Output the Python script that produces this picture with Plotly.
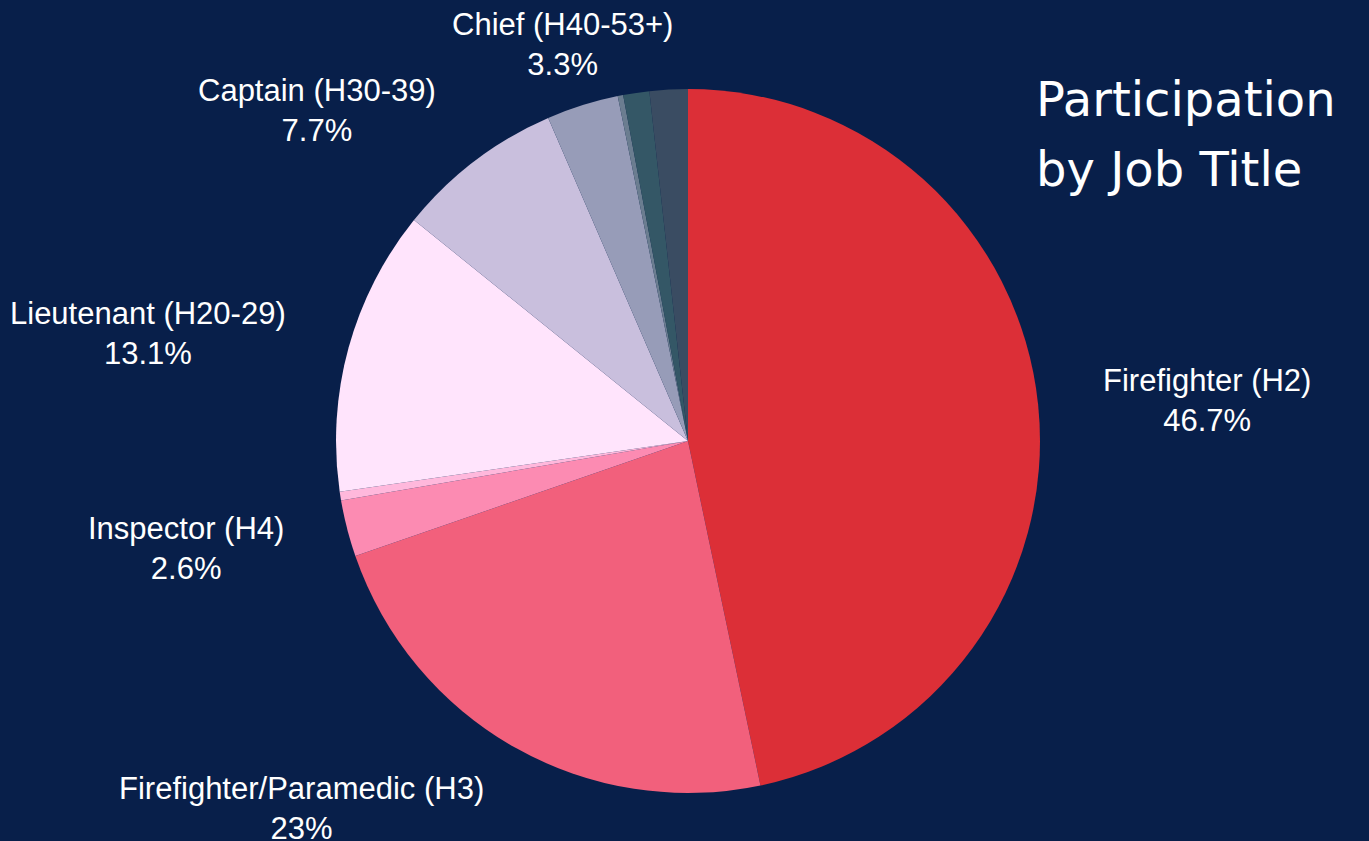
import math
import plotly.graph_objects as go

labels = ["Firefighter (H2)", "Firefighter/Paramedic (H3)", "Inspector (H4)", "Other (H5)",
          "Lieutenant (H20-29)", "Captain (H30-39)", "Chief (H40-53+)", "Other (H54)",
          "Other (H60)", "Other (H70)"]
values = [46.7, 23.0, 2.6, 0.4, 13.1, 7.7, 3.3, 0.25, 1.2, 1.75]
show_text = [True, True, True, False, True, True, True, False, False, False]
colors = ["#dc2f37", "#f2607c", "#fc8bb2", "#ffb8dc", "#ffe4fc", "#c9bfdd",
          "#979cb8", "#6b7d90", "#345766", "#3a4c62"]

W, H = 1369, 841
CX, CY, R = 688, 441, 352          # pie centre / radius in pixels (layout)
LABEL_R = 1.19                     # label anchor distance, in radii

dom_x = [(CX - R) / W, (CX + R) / W]
dom_y = [(H - CY - R) / H, (H - CY + R) / H]

fig = go.Figure(go.Pie(
    labels=labels,
    values=values,
    sort=False,
    direction="clockwise",
    rotation=0,
    marker=dict(colors=colors, line=dict(width=0)),
    textinfo="none",
    showlegend=False,
    hoverinfo="label+percent",
    domain=dict(x=dom_x, y=dom_y),
))


def fmt_pct(p):
    s = f"{p:.3g}"
    if "." in s:
        s = s.rstrip("0").rstrip(".")
    return s + "%"


total = sum(values)
annotations = []
cum = 0.0
for lab, v, show in zip(labels, values, show_text):
    mid = (cum + v / 2) / total * 2 * math.pi   # clockwise from top
    cum += v
    if not show:
        continue
    sx, sy = math.sin(mid), math.cos(mid)
    px = (CX + LABEL_R * R * sx) / W
    py = (H - CY + LABEL_R * R * sy) / H
    if abs(sx) < 0.4:
        xa, xs = "center", 0
    elif sx > 0:
        xa, xs = "left", -4
    else:
        xa, xs = "right", 4
    annotations.append(dict(
        text=f"{lab}<br>{fmt_pct(v / total * 100)}",
        x=px, y=py, xref="paper", yref="paper",
        xanchor=xa, yanchor="middle", align="center", showarrow=False,
        xshift=xs, yshift=-3,
        font=dict(family="Liberation Sans, Arial, sans-serif", size=31, color="#ffffff"),
    ))

title_font = dict(family="DejaVu Sans, sans-serif", size=48, color="#ffffff")
annotations += [
    dict(text="Participation", x=1034 / W, y=1 - 99 / H, xref="paper", yref="paper",
         xanchor="left", yanchor="middle", showarrow=False, font=title_font),
    dict(text="by Job Title", x=1034 / W, y=1 - 169 / H, xref="paper", yref="paper",
         xanchor="left", yanchor="middle", showarrow=False, font=title_font),
]

fig.update_layout(
    width=W, height=H,
    paper_bgcolor="#081f4a",
    plot_bgcolor="#081f4a",
    margin=dict(l=0, r=0, t=0, b=0),
    annotations=annotations,
)

fig.write_html("out.html",
               config={"displayModeBar": False},
               post_script="document.body.style.margin='0';document.body.style.overflow='hidden';")
